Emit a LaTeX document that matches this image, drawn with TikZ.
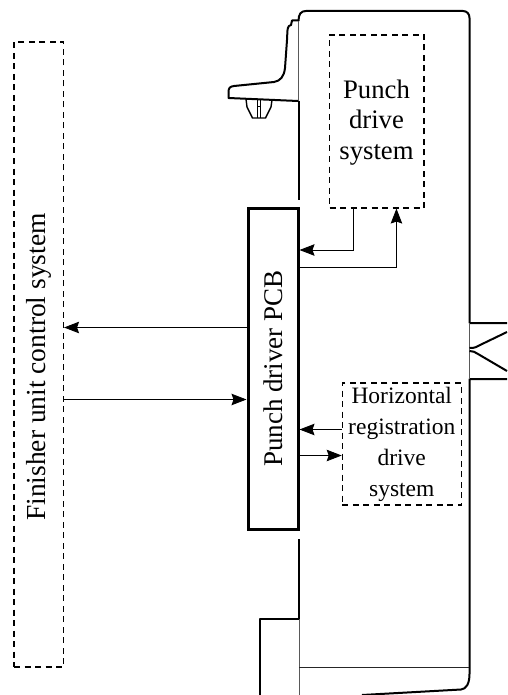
\documentclass[tikz,border=0pt]{standalone}
\usepackage{fontspec}
\setmainfont{Liberation Serif}
\usetikzlibrary{arrows.meta}
\begin{document}
\begin{tikzpicture}[
            x=1pt, y=-1pt,
            >={Stealth[length=15pt,width=11.5pt,inset=2pt]},
            body/.style={line width=2pt, line join=round},
            thinline/.style={line width=0.9pt, draw=black!65},
            signal/.style={line width=0.9pt},
            dashbox/.style={draw, rectangle, line width=1.1pt, dash pattern=on 6pt off 4.5pt, inner sep=0pt},
            pcbbox/.style={draw, rectangle, line width=3pt, inner sep=0pt, font=\fontsize{27}{30}\selectfont},
            boxtext/.style={inner sep=0pt, align=center}
        ]
            \useasboundingbox (0,0) rectangle (507,695);

            % Body
            \draw[body] (298.5,21) .. controls (298.5,14) and (301,11) .. (306,11) -- (463,11)
                .. controls (467,11) and (469.5,14) .. (469.5,18) -- (469.5,323) -- (507,323);
            \draw[body] (507,379) -- (469.5,379) -- (469.5,674)
                .. controls (469.5,684) and (466,689) .. (461,689.5) -- (362,695);
            \draw[body] (298.5,101) -- (298.5,200);
            \draw[body] (298.5,539) -- (298.5,619) -- (259.5,619) -- (259.5,695);
            \draw[thinline] (298.5,21) -- (298.5,101);
            \draw[thinline] (299,619) -- (299,695);
            \draw[thinline] (469.5,323) -- (469.5,379);
            \draw[signal, black!85] (299,667.5) -- (469,667.5);

            % Tray
            \draw[body] (507,332) -- (478,346) .. controls (475,348) and (472,348) .. (469.5,348);
            \draw[body] (469.5,351) .. controls (473,351) and (475,352) .. (478,354) -- (507,371);
            \draw[body] (298,20.5) -- (292,20.5) -- (291,25) -- (289,26)
                .. controls (287,28) and (287.5,32) .. (287,40) -- (285,68)
                .. controls (284,77) and (280,81) .. (274,82) -- (234,86)
                .. controls (230,86.5) and (228.5,88) .. (228.5,92) -- (228.5,98) -- (298,101);
            \draw[line width=1.4pt] (246,99) -- (247,107) -- (252.5,118) -- (265.5,118) -- (271,107) -- (272,100);
            \draw[line width=0.7pt] (257,99.5) -- (257,118) (260,99.5) -- (260,118) (257,106.5) -- (260,106.5);

            % Punch driver PCB
            \node[pcbbox, minimum width=50pt, minimum height=321pt] (pcb) at (273,368.5) {\rotatebox{90}{Punch driver PCB}};

            % Punch drive system
            \node[dashbox, minimum width=94.5pt, minimum height=173pt] (punch) at (376.75,121.5) {};
            \node[boxtext, font=\fontsize{26.7}{30.5}\selectfont] (punchtext) at (376.5,122.5) {Punch\\drive\\system};
            \coordinate (punchout) at ([xshift=24pt]punch.south west);
            \coordinate (punchin) at ([xshift=67.5pt]punch.south west);
            \coordinate (pcbin) at ([yshift=-43.5pt]pcb.north east);
            \coordinate (pcbout) at ([yshift=-60.5pt]pcb.north east);
            \draw[signal, ->] (punchout) |- (pcbin);
            \draw[signal, ->] (pcbout) -| (punchin);

            % Horizontal registration drive system
            \node[dashbox, minimum width=119pt, minimum height=122pt] (hreg) at (401.75,444) {};
            \node[boxtext, font=\fontsize{23.5}{31}\selectfont] (hregtext) at (hreg) {Horizontal\\registration\\drive\\system};
            \draw[signal, ->] ([yshift=14.5pt]hreg.west) -- (pcb.east |- {0,429.5});
            \draw[signal, ->] (pcb.east |- {0,455.5}) -- ([yshift=-11.5pt]hreg.west);

            % Finisher unit control system
            \node[dashbox, minimum width=49.5pt, minimum height=625pt] (finisher) at (38.75,354.5) {};
            \node[boxtext] (finishertext) at (38.5,367) {\rotatebox{90}{\fontsize{27.5}{30}\selectfont Finisher unit control system}};
            \draw[signal, ->] (pcb.west |- {0,327.5}) -- (finisher.east |- {0,327.5});
            \draw[signal, ->] (finisher.east |- {0,399.5}) -- (pcb.west |- {0,399.5});
        \end{tikzpicture}
\end{document}
